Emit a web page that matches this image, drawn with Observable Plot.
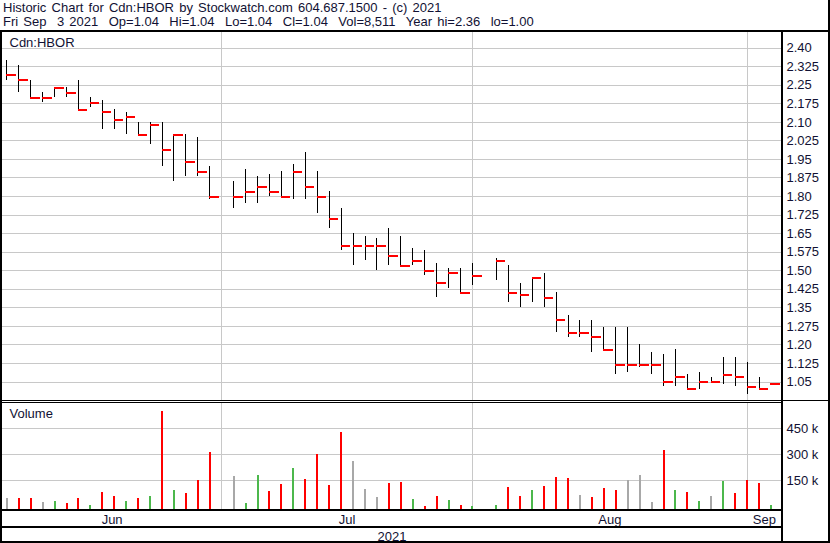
<!DOCTYPE html>
<html><head><meta charset="utf-8">
<script src="https://cdn.jsdelivr.net/npm/d3@7"></script>
<script src="https://cdn.jsdelivr.net/npm/@observablehq/plot@0.6"></script>
<style>
body{margin:0;background:#fff;}
#chart{position:relative;width:830px;height:543px;background:#fff;font-family:"Liberation Sans",Arial,sans-serif;color:#111133;overflow:hidden;}
.ln{position:absolute;background:#000;}
.title{position:absolute;left:3px;font-size:13px;white-space:pre;line-height:14px;word-spacing:1.6px;}
.panel{position:absolute;left:0;}
.panel svg{display:block;}
</style></head><body><div id="chart"></div>
<script>
// ---------- data ----------
const titleLine1 = "Historic Chart for Cdn:HBOR by Stockwatch.com 604.687.1500 - (c) 2021";
const titleLine2 = "Fri Sep  3 2021  Op=1.04  Hi=1.04  Lo=1.04  Cl=1.04  Vol=8,511  Year hi=2.36  lo=1.00";
const symbol = "Cdn:HBOR";
const volumeTitle = "Volume";
const yearLabel = "2021";

const dates = [
 "2021-06-07","2021-06-08","2021-06-09","2021-06-10","2021-06-11",
 "2021-06-14","2021-06-15","2021-06-16","2021-06-17","2021-06-18",
 "2021-06-21","2021-06-22","2021-06-23","2021-06-24","2021-06-25",
 "2021-06-28","2021-06-29","2021-06-30","2021-07-01","2021-07-02",
 "2021-07-05","2021-07-06","2021-07-07","2021-07-08","2021-07-09",
 "2021-07-12","2021-07-13","2021-07-14","2021-07-15","2021-07-16",
 "2021-07-19","2021-07-20","2021-07-21","2021-07-22","2021-07-23",
 "2021-07-26","2021-07-27","2021-07-28","2021-07-29","2021-07-30",
 "2021-08-02","2021-08-03","2021-08-04","2021-08-05","2021-08-06",
 "2021-08-09","2021-08-10","2021-08-11","2021-08-12","2021-08-13",
 "2021-08-16","2021-08-17","2021-08-18","2021-08-19","2021-08-20",
 "2021-08-23","2021-08-24","2021-08-25","2021-08-26","2021-08-27",
 "2021-08-30","2021-08-31","2021-09-01","2021-09-02","2021-09-03"
];
const high = [
 2.35,2.33,2.27,2.22,2.24, 2.24,2.27,2.20,2.19,2.15, 2.14,2.10,2.10,2.10,2.05,
 2.05,2.04,1.92,null,1.86, 1.91,1.88,1.89,1.90,1.93, 1.98,1.90,1.82,1.75,1.65,
 1.64,1.63,1.67,1.64,1.59, 1.58,1.53,1.51,1.51,1.53, null,1.55,1.52,1.45,1.47,
 1.49,1.41,1.32,1.30,1.30, 1.27,1.27,1.27,1.20,1.17, 1.16,1.18,1.08,1.09,1.07,
 1.15,1.15,1.13,1.07,1.04
];
const low = [
 2.27,2.22,2.20,2.18,2.20, 2.20,2.15,2.16,2.07,2.07, 2.05,2.05,2.01,1.92,1.86,
 1.88,1.88,1.79,null,1.75, 1.77,1.77,1.80,1.80,1.79, 1.79,1.73,1.67,1.58,1.52,
 1.54,1.50,1.52,1.52,1.52, 1.48,1.39,1.43,1.41,1.44, null,1.46,1.37,1.35,1.37,
 1.35,1.25,1.23,1.23,1.17, 1.18,1.08,1.09,1.11,1.08, 1.03,1.03,1.02,1.02,1.05,
 1.04,1.03,1.00,1.02,1.04
];
const close = [
 2.29,2.27,2.20,2.20,2.24, 2.22,2.15,2.18,2.14,2.11, 2.12,2.05,2.09,1.99,2.05,
 1.94,1.90,1.80,null,1.80, 1.82,1.84,1.82,1.80,1.90, 1.84,1.80,1.71,1.60,1.60,
 1.60,1.60,1.56,1.52,1.54, 1.50,1.45,1.49,1.41,1.48, null,1.54,1.41,1.40,1.47,
 1.39,1.30,1.25,1.25,1.23, 1.18,1.12,1.12,1.12,1.12, 1.05,1.07,1.02,1.05,1.05,
 1.08,1.07,1.03,1.02,1.04
];
const volume = [
 48000,48000,48000,25000,31000, 19000,48000,8000,83000,59000, 31000,48000,59000,552000,94000,
 77000,152000,313000,null,175000, 19000,180000,88000,129000,221000, 157000,302000,123000,429000,261000,
 100000,54000,134000,140000,42000, 3000,59000,36000,8000,3000, null,8000,111000,59000,94000,
 117000,169000,163000,65000,54000, 106000,94000,150000,180000,25000, 325000,94000,83000,31000,59000,
 146000,77000,152000,134000,8511
];
const monthNames = ["Jun","Jul","Aug","Sep"];
const monthFirsts = ["2021-07-01","2021-08-01","2021-09-01"];
const priceTickLabels = ["2.40","2.325","2.25","2.175","2.10","2.025","1.95","1.875","1.80","1.725","1.65","1.575","1.50","1.425","1.35","1.275","1.20","1.125","1.05"];
const volTicks = [150000,300000,450000];

// ---------- derived ----------
const priceTicks = priceTickLabels.map(Number);
const bars = dates.map((d,i)=>({i, date:d, high:high[i], low:low[i], close:close[i], vol:volume[i]}));
let prev = null;
for (const b of bars) {
  if (b.close == null) continue;
  b.dir = prev == null ? "flat" : b.close > prev ? "up" : b.close < prev ? "down" : "flat";
  prev = b.close;
}
const traded = bars.filter(b => b.close != null);
const dirColor = {up:"#4cb84c", down:"#ff0000", flat:"#a8a8a8"};
const monthLines = monthFirsts.map(m => { let k = -1; dates.forEach((d,i)=>{ if (d <= m) k = i; }); return k; });

const xDomain = [-0.36, dates.length - 1 + 0.88];
const bounds = [xDomain[0], ...monthLines, xDomain[1]];
const monthLabels = monthNames.map((m,j)=>({name:m, x:(bounds[j]+bounds[j+1])/2}));
const tickLen = 0.8;
const volDomain = [-15600, 596000];

const font = '"Liberation Sans", Arial, sans-serif';
const textColor = "#111133";
const gridStyle = {stroke:"#c8c8c8", strokeWidth:1, shapeRendering:"crispEdges"};
const baseStyle = {fontFamily:font, fontSize:"13px", color:textColor, background:"transparent", overflow:"visible"};

const chart = document.getElementById("chart");
function add(el, css){ Object.assign(el.style, css); chart.appendChild(el); return el; }

// titles
const t1 = document.createElement("div"); t1.className="title"; t1.textContent = titleLine1; add(t1,{top:"1px"});
const t2 = document.createElement("div"); t2.className="title"; t2.textContent = titleLine2; add(t2,{top:"15px"});

// price panel
const pricePlot = Plot.plot({
  width:830, height:368, marginLeft:2, marginRight:49, marginTop:0, marginBottom:0,
  style: baseStyle,
  x: {domain:xDomain, axis:null},
  y: {domain:[0.9752, 2.4633], axis:"right", ticks:priceTicks, tickSize:0, tickPadding:5,
      tickFormat: d => priceTickLabels[priceTicks.indexOf(d)], label:null},
  marks: [
    Plot.ruleY(priceTicks, gridStyle),
    Plot.ruleX(monthLines, gridStyle),
    Plot.ruleX(traded, {x:"i", y1:"low", y2:"high", stroke:"#000", strokeWidth:1, shapeRendering:"crispEdges"}),
    Plot.ruleY(traded, {y:"close", x1:"i", x2:d=>d.i+tickLen, stroke:"#ff0000", strokeWidth:2, shapeRendering:"crispEdges"}),
    Plot.text([symbol], {text:d=>d, frameAnchor:"top-left", textAnchor:"start", lineAnchor:"bottom", dx:7, dy:14, fill:textColor})
  ]
});
const pp = document.createElement("div"); pp.className="panel"; pp.appendChild(pricePlot); add(pp,{top:"32px"});

// volume panel
const volPlot = Plot.plot({
  width:830, height:106, marginLeft:2, marginRight:49, marginTop:0, marginBottom:0,
  style: baseStyle,
  x: {domain:xDomain, axis:null},
  y: {domain:volDomain, axis:"right", ticks:volTicks, tickSize:0, tickPadding:5,
      tickFormat: d => (d/1000) + " k", label:null},
  color: {type:"identity"},
  marks: [
    Plot.ruleY(volTicks, gridStyle),
    Plot.ruleX(monthLines, gridStyle),
    Plot.ruleX(traded, {x:"i", y1:volDomain[0], y2:"vol", stroke:d=>dirColor[d.dir], strokeWidth:2, shapeRendering:"crispEdges"}),
    Plot.text([volumeTitle], {text:d=>d, frameAnchor:"top-left", textAnchor:"start", lineAnchor:"bottom", dx:7, dy:14, fill:textColor})
  ]
});
const vp = document.createElement("div"); vp.className="panel"; vp.appendChild(volPlot); add(vp,{top:"403px"});

// date axis rows
const datePlot = Plot.plot({
  width:830, height:32, marginLeft:2, marginRight:49, marginTop:0, marginBottom:0,
  style: baseStyle,
  x: {domain:xDomain, axis:null},
  y: {axis:null},
  marks: [
    Plot.text(monthLabels, {x:"x", text:"name", frameAnchor:"top", lineAnchor:"bottom", dy:12, fill:textColor}),
    Plot.text([yearLabel], {text:d=>d, frameAnchor:"top", lineAnchor:"bottom", dy:29, fill:textColor})
  ]
});
const dp = document.createElement("div"); dp.className="panel"; dp.appendChild(datePlot); add(dp,{top:"511px"});

// frame lines
const lines = [
  {left:0, top:30, width:830, height:2},
  {left:0, top:30, width:2, height:513},
  {left:828, top:0, width:2, height:543},
  {left:781, top:30, width:2, height:513},
  {left:0, top:400, width:781, height:1},
  {left:0, top:402, width:781, height:1},
  {left:781, top:400, width:49, height:1},
  {left:0, top:509, width:781, height:2},
  {left:0, top:526, width:781, height:2},
  {left:0, top:541, width:830, height:2}
];
for (const l of lines) {
  const d = document.createElement("div"); d.className="ln";
  add(d, {left:l.left+"px", top:l.top+"px", width:l.width+"px", height:l.height+"px"});
}
</script>
</body></html>
